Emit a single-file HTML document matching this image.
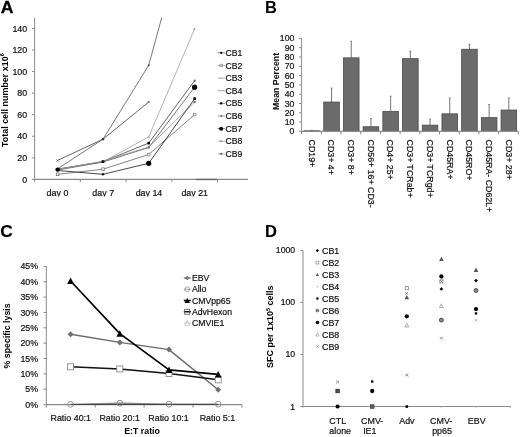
<!DOCTYPE html>
<html><head><meta charset="utf-8"><style>
html,body{margin:0;padding:0;background:#fff;width:520px;height:437px;overflow:hidden;}
svg{display:block;font-family:"Liberation Sans",sans-serif;filter:blur(0.35px);}
</style></head><body>
<svg width="520" height="437" viewBox="0 0 520 437">
<rect width="520" height="437" fill="#fff"/>
<text transform="translate(0.7,12.8) scale(1.07,1)" font-size="16.5" font-weight="bold" fill="#000" stroke="#000" stroke-width="0.3">A</text>
<line x1="34.60" y1="17.80" x2="34.60" y2="179.40" stroke="#8a8a8a" stroke-width="1.0" />
<line x1="32.00" y1="179.40" x2="34.60" y2="179.40" stroke="#8a8a8a" stroke-width="1.0" />
<text x="27.20" y="182.50" font-size="8.9" text-anchor="end" font-weight="normal" fill="#111"  stroke="#111" stroke-width="0.2">0</text>
<line x1="32.00" y1="157.83" x2="34.60" y2="157.83" stroke="#8a8a8a" stroke-width="1.0" />
<text x="27.20" y="160.93" font-size="8.9" text-anchor="end" font-weight="normal" fill="#111"  stroke="#111" stroke-width="0.2">20</text>
<line x1="32.00" y1="136.26" x2="34.60" y2="136.26" stroke="#8a8a8a" stroke-width="1.0" />
<text x="27.20" y="139.36" font-size="8.9" text-anchor="end" font-weight="normal" fill="#111"  stroke="#111" stroke-width="0.2">40</text>
<line x1="32.00" y1="114.69" x2="34.60" y2="114.69" stroke="#8a8a8a" stroke-width="1.0" />
<text x="27.20" y="117.79" font-size="8.9" text-anchor="end" font-weight="normal" fill="#111"  stroke="#111" stroke-width="0.2">60</text>
<line x1="32.00" y1="93.12" x2="34.60" y2="93.12" stroke="#8a8a8a" stroke-width="1.0" />
<text x="27.20" y="96.22" font-size="8.9" text-anchor="end" font-weight="normal" fill="#111"  stroke="#111" stroke-width="0.2">80</text>
<line x1="32.00" y1="71.55" x2="34.60" y2="71.55" stroke="#8a8a8a" stroke-width="1.0" />
<text x="27.20" y="74.65" font-size="8.9" text-anchor="end" font-weight="normal" fill="#111"  stroke="#111" stroke-width="0.2">100</text>
<line x1="32.00" y1="49.98" x2="34.60" y2="49.98" stroke="#8a8a8a" stroke-width="1.0" />
<text x="27.20" y="53.08" font-size="8.9" text-anchor="end" font-weight="normal" fill="#111"  stroke="#111" stroke-width="0.2">120</text>
<line x1="32.00" y1="28.41" x2="34.60" y2="28.41" stroke="#8a8a8a" stroke-width="1.0" />
<text x="27.20" y="31.51" font-size="8.9" text-anchor="end" font-weight="normal" fill="#111"  stroke="#111" stroke-width="0.2">140</text>
<line x1="34.60" y1="179.40" x2="248.00" y2="179.40" stroke="#8a8a8a" stroke-width="1.2" />
<line x1="196.00" y1="179.50" x2="217.50" y2="179.50" stroke="#666" stroke-width="1.4" />
<line x1="34.60" y1="179.40" x2="34.60" y2="182.20" stroke="#8a8a8a" stroke-width="1.0" />
<line x1="80.35" y1="179.40" x2="80.35" y2="182.20" stroke="#8a8a8a" stroke-width="1.0" />
<line x1="126.10" y1="179.40" x2="126.10" y2="182.20" stroke="#8a8a8a" stroke-width="1.0" />
<line x1="171.85" y1="179.40" x2="171.85" y2="182.20" stroke="#8a8a8a" stroke-width="1.0" />
<line x1="217.60" y1="179.40" x2="217.60" y2="182.20" stroke="#8a8a8a" stroke-width="1.0" />
<clipPath id="cax"><rect x="30" y="180" width="200" height="16.4"/></clipPath><g clip-path="url(#cax)">
<text x="57.48" y="195.70" font-size="8.9" text-anchor="middle" font-weight="normal" fill="#111"  stroke="#111" stroke-width="0.2">day 0</text>
<text x="103.22" y="195.70" font-size="8.9" text-anchor="middle" font-weight="normal" fill="#111"  stroke="#111" stroke-width="0.2">day 7</text>
<text x="148.97" y="195.70" font-size="8.9" text-anchor="middle" font-weight="normal" fill="#111"  stroke="#111" stroke-width="0.2">day 14</text>
<text x="194.72" y="195.70" font-size="8.9" text-anchor="middle" font-weight="normal" fill="#111"  stroke="#111" stroke-width="0.2">day 21</text>
</g>
<text transform="translate(7.70,100.10) rotate(-90)" font-size="8.95" text-anchor="middle" font-weight="bold" fill="#000">Total cell number x10<tspan font-size="5.6" dy="-3.5">6</tspan></text>
<defs><clipPath id="ca"><rect x="34" y="17.8" width="220" height="170"/></clipPath></defs>
<g clip-path="url(#ca)">
<polyline points="57.60,168.80 103.00,139.20 148.70,65.30 194.60,-103.00" fill="none" stroke="#666" stroke-width="0.9" stroke-linejoin="round" />
<polyline points="57.60,160.40 103.00,139.20 148.70,102.00" fill="none" stroke="#555" stroke-width="0.9" stroke-linejoin="round" />
<polyline points="57.60,169.00 103.00,161.80 148.70,137.00 194.60,28.80" fill="none" stroke="#aaa" stroke-width="0.9" stroke-linejoin="round" />
<polyline points="57.60,169.20 103.00,161.60 148.70,143.10 194.60,80.70" fill="none" stroke="#555" stroke-width="0.9" stroke-linejoin="round" />
<polyline points="57.60,170.00 103.00,162.00 148.70,147.50 194.60,87.20" fill="none" stroke="#666" stroke-width="0.9" stroke-linejoin="round" />
<polyline points="57.60,169.50 103.00,161.20 148.70,147.00 194.60,102.00" fill="none" stroke="#999" stroke-width="0.9" stroke-linejoin="round" />
<polyline points="57.60,174.30 103.00,169.20 148.70,154.50 194.60,114.60" fill="none" stroke="#777" stroke-width="0.9" stroke-linejoin="round" />
<polyline points="57.60,170.50 103.00,174.30 148.70,163.30 194.60,98.70" fill="none" stroke="#333" stroke-width="0.9" stroke-linejoin="round" />
</g>
<path d="M56.50,159.30L58.70,161.50M58.70,159.30L56.50,161.50" stroke="#666" stroke-width="0.8" fill="none"/>
<circle cx="57.60" cy="169.60" r="2.2" fill="#000" stroke="none" stroke-width="0.8"/>
<rect x="56.30" y="173.00" width="2.6" height="2.6" fill="#fff" stroke="#777" stroke-width="0.8"/>
<circle cx="103.00" cy="139.20" r="1.2" fill="#333" stroke="none" stroke-width="0.8"/>
<rect x="101.60" y="160.20" width="2.8" height="2.8" fill="#111" stroke="none" stroke-width="0.8"/>
<rect x="101.70" y="167.90" width="2.6" height="2.6" fill="#fff" stroke="#777" stroke-width="0.8"/>
<polygon points="103.00,172.80 104.50,174.30 103.00,175.80 101.50,174.30" fill="#000" stroke="none" stroke-width="0.8"/>
<circle cx="148.70" cy="65.30" r="1.1" fill="#555" stroke="none" stroke-width="0.8"/>
<path d="M147.60,100.90L149.80,103.10M149.80,100.90L147.60,103.10" stroke="#666" stroke-width="0.8" fill="none"/>
<polygon points="148.70,135.80 149.90,138.08 147.50,138.08" fill="#aaa" stroke="none" stroke-width="0.8"/>
<rect x="147.40" y="141.80" width="2.6" height="2.6" fill="#000" stroke="none" stroke-width="0.8"/>
<circle cx="148.70" cy="147.50" r="1.3" fill="#777" stroke="none" stroke-width="0.8"/>
<rect x="147.40" y="153.20" width="2.6" height="2.6" fill="#fff" stroke="#888" stroke-width="0.8"/>
<circle cx="148.70" cy="163.30" r="2.6" fill="#000" stroke="none" stroke-width="0.8"/>
<polygon points="194.60,27.60 195.80,29.88 193.40,29.88" fill="#999" stroke="none" stroke-width="0.8"/>
<circle cx="194.60" cy="80.70" r="1.2" fill="#777" stroke="none" stroke-width="0.8"/>
<circle cx="194.60" cy="87.20" r="2.6" fill="#000" stroke="none" stroke-width="0.8"/>
<rect x="193.30" y="97.40" width="2.6" height="2.6" fill="#000" stroke="none" stroke-width="0.8"/>
<circle cx="194.60" cy="102.00" r="1.3" fill="#777" stroke="none" stroke-width="0.8"/>
<rect x="193.30" y="113.30" width="2.6" height="2.6" fill="#fff" stroke="#888" stroke-width="0.8"/>
<line x1="217.50" y1="52.80" x2="225.00" y2="52.80" stroke="#777" stroke-width="0.9" />
<text x="225.50" y="55.90" font-size="8.7" text-anchor="start" font-weight="normal" fill="#111"  stroke="#111" stroke-width="0.2">CB1</text>
<polygon points="221.20,51.40 222.60,52.80 221.20,54.20 219.80,52.80" fill="#000" stroke="none" stroke-width="0.8"/>
<line x1="217.50" y1="65.44" x2="225.00" y2="65.44" stroke="#aaa" stroke-width="0.9" />
<text x="225.50" y="68.54" font-size="8.7" text-anchor="start" font-weight="normal" fill="#111"  stroke="#111" stroke-width="0.2">CB2</text>
<rect x="220.00" y="64.24" width="2.4" height="2.4" fill="#ccc" stroke="#999" stroke-width="0.8"/>
<line x1="217.50" y1="78.08" x2="225.00" y2="78.08" stroke="#aaa" stroke-width="0.9" />
<text x="225.50" y="81.18" font-size="8.7" text-anchor="start" font-weight="normal" fill="#111"  stroke="#111" stroke-width="0.2">CB3</text>
<polygon points="221.20,76.98 222.30,79.07 220.10,79.07" fill="#bbb" stroke="none" stroke-width="0.8"/>
<line x1="217.50" y1="90.72" x2="225.00" y2="90.72" stroke="#999" stroke-width="0.9" />
<text x="225.50" y="93.82" font-size="8.7" text-anchor="start" font-weight="normal" fill="#111"  stroke="#111" stroke-width="0.2">CB4</text>
<line x1="217.50" y1="103.36" x2="225.00" y2="103.36" stroke="#888" stroke-width="0.9" />
<text x="225.50" y="106.46" font-size="8.7" text-anchor="start" font-weight="normal" fill="#111"  stroke="#111" stroke-width="0.2">CB5</text>
<rect x="220.10" y="102.26" width="2.2" height="2.2" fill="#000" stroke="none" stroke-width="0.8"/>
<line x1="217.50" y1="116.00" x2="225.00" y2="116.00" stroke="#999" stroke-width="0.9" />
<text x="225.50" y="119.10" font-size="8.7" text-anchor="start" font-weight="normal" fill="#111"  stroke="#111" stroke-width="0.2">CB6</text>
<circle cx="221.20" cy="116.00" r="1.1" fill="#777" stroke="none" stroke-width="0.8"/>
<line x1="217.50" y1="128.64" x2="225.00" y2="128.64" stroke="#666" stroke-width="0.9" />
<text x="225.50" y="131.74" font-size="8.7" text-anchor="start" font-weight="normal" fill="#111"  stroke="#111" stroke-width="0.2">CB7</text>
<circle cx="221.20" cy="128.64" r="2.0" fill="#000" stroke="none" stroke-width="0.8"/>
<line x1="217.50" y1="141.28" x2="225.00" y2="141.28" stroke="#aaa" stroke-width="0.9" />
<text x="225.50" y="144.38" font-size="8.7" text-anchor="start" font-weight="normal" fill="#111"  stroke="#111" stroke-width="0.2">CB8</text>
<circle cx="221.20" cy="141.28" r="1.0" fill="#888" stroke="none" stroke-width="0.8"/>
<line x1="217.50" y1="153.92" x2="225.00" y2="153.92" stroke="#aaa" stroke-width="0.9" />
<text x="225.50" y="157.02" font-size="8.7" text-anchor="start" font-weight="normal" fill="#111"  stroke="#111" stroke-width="0.2">CB9</text>
<circle cx="221.20" cy="153.92" r="1.1" fill="#666" stroke="none" stroke-width="0.8"/>
<text x="264.90" y="12.60" font-size="16.5" text-anchor="start" font-weight="bold" fill="#000" >B</text>
<line x1="301.60" y1="38.30" x2="301.60" y2="131.40" stroke="#8a8a8a" stroke-width="1.0" />
<line x1="299.00" y1="131.40" x2="301.60" y2="131.40" stroke="#8a8a8a" stroke-width="1.0" />
<text x="294.30" y="134.40" font-size="8.7" text-anchor="end" font-weight="normal" fill="#111"  stroke="#111" stroke-width="0.2">0</text>
<line x1="299.00" y1="122.10" x2="301.60" y2="122.10" stroke="#8a8a8a" stroke-width="1.0" />
<text x="294.30" y="125.10" font-size="8.7" text-anchor="end" font-weight="normal" fill="#111"  stroke="#111" stroke-width="0.2">10</text>
<line x1="299.00" y1="112.80" x2="301.60" y2="112.80" stroke="#8a8a8a" stroke-width="1.0" />
<text x="294.30" y="115.80" font-size="8.7" text-anchor="end" font-weight="normal" fill="#111"  stroke="#111" stroke-width="0.2">20</text>
<line x1="299.00" y1="103.50" x2="301.60" y2="103.50" stroke="#8a8a8a" stroke-width="1.0" />
<text x="294.30" y="106.50" font-size="8.7" text-anchor="end" font-weight="normal" fill="#111"  stroke="#111" stroke-width="0.2">30</text>
<line x1="299.00" y1="94.20" x2="301.60" y2="94.20" stroke="#8a8a8a" stroke-width="1.0" />
<text x="294.30" y="97.20" font-size="8.7" text-anchor="end" font-weight="normal" fill="#111"  stroke="#111" stroke-width="0.2">40</text>
<line x1="299.00" y1="84.90" x2="301.60" y2="84.90" stroke="#8a8a8a" stroke-width="1.0" />
<text x="294.30" y="87.90" font-size="8.7" text-anchor="end" font-weight="normal" fill="#111"  stroke="#111" stroke-width="0.2">50</text>
<line x1="299.00" y1="75.60" x2="301.60" y2="75.60" stroke="#8a8a8a" stroke-width="1.0" />
<text x="294.30" y="78.60" font-size="8.7" text-anchor="end" font-weight="normal" fill="#111"  stroke="#111" stroke-width="0.2">60</text>
<line x1="299.00" y1="66.30" x2="301.60" y2="66.30" stroke="#8a8a8a" stroke-width="1.0" />
<text x="294.30" y="69.30" font-size="8.7" text-anchor="end" font-weight="normal" fill="#111"  stroke="#111" stroke-width="0.2">70</text>
<line x1="299.00" y1="57.00" x2="301.60" y2="57.00" stroke="#8a8a8a" stroke-width="1.0" />
<text x="294.30" y="60.00" font-size="8.7" text-anchor="end" font-weight="normal" fill="#111"  stroke="#111" stroke-width="0.2">80</text>
<line x1="299.00" y1="47.70" x2="301.60" y2="47.70" stroke="#8a8a8a" stroke-width="1.0" />
<text x="294.30" y="50.70" font-size="8.7" text-anchor="end" font-weight="normal" fill="#111"  stroke="#111" stroke-width="0.2">90</text>
<line x1="299.00" y1="38.40" x2="301.60" y2="38.40" stroke="#8a8a8a" stroke-width="1.0" />
<text x="294.30" y="41.40" font-size="8.7" text-anchor="end" font-weight="normal" fill="#111"  stroke="#111" stroke-width="0.2">100</text>
<text transform="translate(278.90,81.50) rotate(-90)" font-size="8.8" text-anchor="middle" font-weight="bold" fill="#000">Mean Percent</text>
<line x1="311.85" y1="130.30" x2="311.85" y2="130.80" stroke="#666" stroke-width="0.9" />
<line x1="310.95" y1="130.30" x2="312.75" y2="130.30" stroke="#666" stroke-width="0.8" />
<rect x="304.05" y="130.80" width="15.6" height="0.60" fill="#6b6b6b" stroke="#4a4a4a" stroke-width="0.8"/>
<text transform="translate(308.65,139.60) rotate(90)" font-size="8.8" text-anchor="start" font-weight="normal" fill="#111" stroke="#111" stroke-width="0.2">CD19+</text>
<line x1="331.55" y1="88.10" x2="331.55" y2="102.05" stroke="#666" stroke-width="0.9" />
<line x1="330.65" y1="88.10" x2="332.45" y2="88.10" stroke="#666" stroke-width="0.8" />
<rect x="323.75" y="102.05" width="15.6" height="29.35" fill="#6b6b6b" stroke="#4a4a4a" stroke-width="0.8"/>
<text transform="translate(328.35,139.60) rotate(90)" font-size="8.8" text-anchor="start" font-weight="normal" fill="#111" stroke="#111" stroke-width="0.2">CD3+ 4+</text>
<line x1="351.25" y1="41.20" x2="351.25" y2="57.85" stroke="#666" stroke-width="0.9" />
<line x1="350.35" y1="41.20" x2="352.15" y2="41.20" stroke="#666" stroke-width="0.8" />
<rect x="343.45" y="57.85" width="15.6" height="73.55" fill="#6b6b6b" stroke="#4a4a4a" stroke-width="0.8"/>
<text transform="translate(348.05,139.60) rotate(90)" font-size="8.8" text-anchor="start" font-weight="normal" fill="#111" stroke="#111" stroke-width="0.2">CD3+ 8+</text>
<line x1="370.95" y1="118.60" x2="370.95" y2="126.75" stroke="#666" stroke-width="0.9" />
<line x1="370.05" y1="118.60" x2="371.85" y2="118.60" stroke="#666" stroke-width="0.8" />
<rect x="363.15" y="126.75" width="15.6" height="4.65" fill="#6b6b6b" stroke="#4a4a4a" stroke-width="0.8"/>
<text transform="translate(367.75,139.60) rotate(90)" font-size="8.8" text-anchor="start" font-weight="normal" fill="#111" stroke="#111" stroke-width="0.2">CD56+ 16+ CD3-</text>
<line x1="390.65" y1="96.20" x2="390.65" y2="111.35" stroke="#666" stroke-width="0.9" />
<line x1="389.75" y1="96.20" x2="391.55" y2="96.20" stroke="#666" stroke-width="0.8" />
<rect x="382.85" y="111.35" width="15.6" height="20.05" fill="#6b6b6b" stroke="#4a4a4a" stroke-width="0.8"/>
<text transform="translate(387.45,139.60) rotate(90)" font-size="8.8" text-anchor="start" font-weight="normal" fill="#111" stroke="#111" stroke-width="0.2">CD4+ 25+</text>
<line x1="410.35" y1="51.10" x2="410.35" y2="58.65" stroke="#666" stroke-width="0.9" />
<line x1="409.45" y1="51.10" x2="411.25" y2="51.10" stroke="#666" stroke-width="0.8" />
<rect x="402.55" y="58.65" width="15.6" height="72.75" fill="#6b6b6b" stroke="#4a4a4a" stroke-width="0.8"/>
<text transform="translate(407.15,139.60) rotate(90)" font-size="8.8" text-anchor="start" font-weight="normal" fill="#111" stroke="#111" stroke-width="0.2">CD3+ TCRab+</text>
<line x1="430.05" y1="119.00" x2="430.05" y2="125.15" stroke="#666" stroke-width="0.9" />
<line x1="429.15" y1="119.00" x2="430.95" y2="119.00" stroke="#666" stroke-width="0.8" />
<rect x="422.25" y="125.15" width="15.6" height="6.25" fill="#6b6b6b" stroke="#4a4a4a" stroke-width="0.8"/>
<text transform="translate(426.85,139.60) rotate(90)" font-size="8.8" text-anchor="start" font-weight="normal" fill="#111" stroke="#111" stroke-width="0.2">CD3+ TCRgd+</text>
<line x1="449.75" y1="97.90" x2="449.75" y2="113.85" stroke="#666" stroke-width="0.9" />
<line x1="448.85" y1="97.90" x2="450.65" y2="97.90" stroke="#666" stroke-width="0.8" />
<rect x="441.95" y="113.85" width="15.6" height="17.55" fill="#6b6b6b" stroke="#4a4a4a" stroke-width="0.8"/>
<text transform="translate(446.55,139.60) rotate(90)" font-size="8.8" text-anchor="start" font-weight="normal" fill="#111" stroke="#111" stroke-width="0.2">CD45RA+</text>
<line x1="469.45" y1="44.30" x2="469.45" y2="49.25" stroke="#666" stroke-width="0.9" />
<line x1="468.55" y1="44.30" x2="470.35" y2="44.30" stroke="#666" stroke-width="0.8" />
<rect x="461.65" y="49.25" width="15.6" height="82.15" fill="#6b6b6b" stroke="#4a4a4a" stroke-width="0.8"/>
<text transform="translate(466.25,139.60) rotate(90)" font-size="8.8" text-anchor="start" font-weight="normal" fill="#111" stroke="#111" stroke-width="0.2">CD45RO+</text>
<line x1="489.15" y1="104.50" x2="489.15" y2="117.65" stroke="#666" stroke-width="0.9" />
<line x1="488.25" y1="104.50" x2="490.05" y2="104.50" stroke="#666" stroke-width="0.8" />
<rect x="481.35" y="117.65" width="15.6" height="13.75" fill="#6b6b6b" stroke="#4a4a4a" stroke-width="0.8"/>
<text transform="translate(485.95,139.60) rotate(90)" font-size="8.8" text-anchor="start" font-weight="normal" fill="#111" stroke="#111" stroke-width="0.2">CD45RA- CD62L+</text>
<line x1="508.85" y1="97.90" x2="508.85" y2="110.05" stroke="#666" stroke-width="0.9" />
<line x1="507.95" y1="97.90" x2="509.75" y2="97.90" stroke="#666" stroke-width="0.8" />
<rect x="501.05" y="110.05" width="15.6" height="21.35" fill="#6b6b6b" stroke="#4a4a4a" stroke-width="0.8"/>
<text transform="translate(505.65,139.60) rotate(90)" font-size="8.8" text-anchor="start" font-weight="normal" fill="#111" stroke="#111" stroke-width="0.2">CD3+ 28+</text>
<line x1="301.60" y1="131.40" x2="518.30" y2="131.40" stroke="#8a8a8a" stroke-width="1.2" />
<line x1="301.60" y1="131.40" x2="301.60" y2="134.40" stroke="#8a8a8a" stroke-width="1.0" />
<line x1="321.30" y1="131.40" x2="321.30" y2="134.40" stroke="#8a8a8a" stroke-width="1.0" />
<line x1="341.00" y1="131.40" x2="341.00" y2="134.40" stroke="#8a8a8a" stroke-width="1.0" />
<line x1="360.70" y1="131.40" x2="360.70" y2="134.40" stroke="#8a8a8a" stroke-width="1.0" />
<line x1="380.40" y1="131.40" x2="380.40" y2="134.40" stroke="#8a8a8a" stroke-width="1.0" />
<line x1="400.10" y1="131.40" x2="400.10" y2="134.40" stroke="#8a8a8a" stroke-width="1.0" />
<line x1="419.80" y1="131.40" x2="419.80" y2="134.40" stroke="#8a8a8a" stroke-width="1.0" />
<line x1="439.50" y1="131.40" x2="439.50" y2="134.40" stroke="#8a8a8a" stroke-width="1.0" />
<line x1="459.20" y1="131.40" x2="459.20" y2="134.40" stroke="#8a8a8a" stroke-width="1.0" />
<line x1="478.90" y1="131.40" x2="478.90" y2="134.40" stroke="#8a8a8a" stroke-width="1.0" />
<line x1="498.60" y1="131.40" x2="498.60" y2="134.40" stroke="#8a8a8a" stroke-width="1.0" />
<line x1="518.30" y1="131.40" x2="518.30" y2="134.40" stroke="#8a8a8a" stroke-width="1.0" />
<text transform="translate(0.3,237.3) scale(1.0,1)" font-size="17.3" font-weight="bold" fill="#000" stroke="#000" stroke-width="0.2">C</text>
<line x1="46.30" y1="266.00" x2="46.30" y2="404.60" stroke="#8a8a8a" stroke-width="1.0" />
<line x1="43.50" y1="404.60" x2="46.30" y2="404.60" stroke="#8a8a8a" stroke-width="1.0" />
<text x="38.20" y="407.70" font-size="8.9" text-anchor="end" font-weight="normal" fill="#111"  stroke="#111" stroke-width="0.2">0%</text>
<line x1="43.50" y1="389.24" x2="46.30" y2="389.24" stroke="#8a8a8a" stroke-width="1.0" />
<text x="38.20" y="392.34" font-size="8.9" text-anchor="end" font-weight="normal" fill="#111"  stroke="#111" stroke-width="0.2">5%</text>
<line x1="43.50" y1="373.88" x2="46.30" y2="373.88" stroke="#8a8a8a" stroke-width="1.0" />
<text x="38.20" y="376.98" font-size="8.9" text-anchor="end" font-weight="normal" fill="#111"  stroke="#111" stroke-width="0.2">10%</text>
<line x1="43.50" y1="358.52" x2="46.30" y2="358.52" stroke="#8a8a8a" stroke-width="1.0" />
<text x="38.20" y="361.62" font-size="8.9" text-anchor="end" font-weight="normal" fill="#111"  stroke="#111" stroke-width="0.2">15%</text>
<line x1="43.50" y1="343.16" x2="46.30" y2="343.16" stroke="#8a8a8a" stroke-width="1.0" />
<text x="38.20" y="346.26" font-size="8.9" text-anchor="end" font-weight="normal" fill="#111"  stroke="#111" stroke-width="0.2">20%</text>
<line x1="43.50" y1="327.80" x2="46.30" y2="327.80" stroke="#8a8a8a" stroke-width="1.0" />
<text x="38.20" y="330.90" font-size="8.9" text-anchor="end" font-weight="normal" fill="#111"  stroke="#111" stroke-width="0.2">25%</text>
<line x1="43.50" y1="312.44" x2="46.30" y2="312.44" stroke="#8a8a8a" stroke-width="1.0" />
<text x="38.20" y="315.54" font-size="8.9" text-anchor="end" font-weight="normal" fill="#111"  stroke="#111" stroke-width="0.2">30%</text>
<line x1="43.50" y1="297.08" x2="46.30" y2="297.08" stroke="#8a8a8a" stroke-width="1.0" />
<text x="38.20" y="300.18" font-size="8.9" text-anchor="end" font-weight="normal" fill="#111"  stroke="#111" stroke-width="0.2">35%</text>
<line x1="43.50" y1="281.72" x2="46.30" y2="281.72" stroke="#8a8a8a" stroke-width="1.0" />
<text x="38.20" y="284.82" font-size="8.9" text-anchor="end" font-weight="normal" fill="#111"  stroke="#111" stroke-width="0.2">40%</text>
<line x1="43.50" y1="266.36" x2="46.30" y2="266.36" stroke="#8a8a8a" stroke-width="1.0" />
<text x="38.20" y="269.46" font-size="8.9" text-anchor="end" font-weight="normal" fill="#111"  stroke="#111" stroke-width="0.2">45%</text>
<line x1="46.30" y1="404.60" x2="241.90" y2="404.60" stroke="#8a8a8a" stroke-width="1.2" />
<line x1="46.30" y1="404.60" x2="46.30" y2="407.60" stroke="#8a8a8a" stroke-width="1.0" />
<line x1="95.20" y1="404.60" x2="95.20" y2="407.60" stroke="#8a8a8a" stroke-width="1.0" />
<line x1="144.10" y1="404.60" x2="144.10" y2="407.60" stroke="#8a8a8a" stroke-width="1.0" />
<line x1="193.00" y1="404.60" x2="193.00" y2="407.60" stroke="#8a8a8a" stroke-width="1.0" />
<line x1="241.90" y1="404.60" x2="241.90" y2="407.60" stroke="#8a8a8a" stroke-width="1.0" />
<text x="70.75" y="420.60" font-size="8.9" text-anchor="middle" font-weight="normal" fill="#111"  stroke="#111" stroke-width="0.2">Ratio 40:1</text>
<text x="119.65" y="420.60" font-size="8.9" text-anchor="middle" font-weight="normal" fill="#111"  stroke="#111" stroke-width="0.2">Ratio 20:1</text>
<text x="168.55" y="420.60" font-size="8.9" text-anchor="middle" font-weight="normal" fill="#111"  stroke="#111" stroke-width="0.2">Ratio 10:1</text>
<text x="217.45" y="420.60" font-size="8.9" text-anchor="middle" font-weight="normal" fill="#111"  stroke="#111" stroke-width="0.2">Ratio 5:1</text>
<text x="142.10" y="434.00" font-size="8.8" text-anchor="middle" font-weight="bold" fill="#000" >E:T ratio</text>
<text transform="translate(10.20,335.90) rotate(-90)" font-size="8.8" text-anchor="middle" font-weight="bold" fill="#000">% specific lysis</text>
<polyline points="70.60,404.30 119.80,403.20 169.00,404.20 218.20,404.10" fill="none" stroke="#888" stroke-width="1.3" stroke-linejoin="round" />
<polyline points="70.60,404.50 119.80,404.50 169.00,404.50 218.20,404.50" fill="none" stroke="#444" stroke-width="1.0" stroke-linejoin="round" />
<circle cx="70.60" cy="404.30" r="2.9" fill="none" stroke="#888" stroke-width="0.9"/>
<circle cx="119.80" cy="403.20" r="2.9" fill="none" stroke="#888" stroke-width="0.9"/>
<circle cx="169.00" cy="404.20" r="2.9" fill="none" stroke="#888" stroke-width="0.9"/>
<circle cx="218.20" cy="404.10" r="2.9" fill="none" stroke="#888" stroke-width="0.9"/>
<polyline points="70.60,334.30 119.80,342.40 169.00,349.60 218.20,389.80" fill="none" stroke="#6a6a6a" stroke-width="1.4" stroke-linejoin="round" />
<polygon points="70.60,331.30 73.60,334.30 70.60,337.30 67.60,334.30" fill="#707070" stroke="none" stroke-width="0.8"/>
<polygon points="119.80,339.40 122.80,342.40 119.80,345.40 116.80,342.40" fill="#707070" stroke="none" stroke-width="0.8"/>
<polygon points="169.00,346.60 172.00,349.60 169.00,352.60 166.00,349.60" fill="#707070" stroke="none" stroke-width="0.8"/>
<polygon points="218.20,386.80 221.20,389.80 218.20,392.80 215.20,389.80" fill="#707070" stroke="none" stroke-width="0.8"/>
<polyline points="70.60,366.80 119.80,368.90 169.00,373.50 218.20,379.80" fill="none" stroke="#111" stroke-width="1.5" stroke-linejoin="round" />
<rect x="67.60" y="363.80" width="6.0" height="6.0" fill="#fff" stroke="#888" stroke-width="0.9"/>
<rect x="116.80" y="365.90" width="6.0" height="6.0" fill="#fff" stroke="#888" stroke-width="0.9"/>
<rect x="166.00" y="370.50" width="6.0" height="6.0" fill="#fff" stroke="#888" stroke-width="0.9"/>
<rect x="215.20" y="376.80" width="6.0" height="6.0" fill="#fff" stroke="#888" stroke-width="0.9"/>
<polyline points="70.60,281.00 119.80,333.60 169.00,369.90 218.20,374.40" fill="none" stroke="#000" stroke-width="1.7" stroke-linejoin="round" />
<polygon points="70.60,277.60 74.00,284.06 67.20,284.06" fill="#000" stroke="none" stroke-width="0.8"/>
<polygon points="119.80,330.20 123.20,336.66 116.40,336.66" fill="#000" stroke="none" stroke-width="0.8"/>
<polygon points="169.00,366.50 172.40,372.96 165.60,372.96" fill="#000" stroke="none" stroke-width="0.8"/>
<polygon points="218.20,371.00 221.60,377.46 214.80,377.46" fill="#000" stroke="none" stroke-width="0.8"/>
<line x1="183.80" y1="278.00" x2="190.80" y2="278.00" stroke="#777" stroke-width="1.3" />
<polygon points="187.20,275.70 189.50,278.00 187.20,280.30 184.90,278.00" fill="#777" stroke="none" stroke-width="0.8"/>
<text x="191.90" y="281.10" font-size="8.7" text-anchor="start" font-weight="normal" fill="#111"  stroke="#111" stroke-width="0.2">EBV</text>
<line x1="183.80" y1="289.25" x2="190.80" y2="289.25" stroke="#999" stroke-width="1.0" />
<circle cx="187.20" cy="289.25" r="2.4" fill="none" stroke="#999" stroke-width="0.8"/>
<text x="191.90" y="292.35" font-size="8.7" text-anchor="start" font-weight="normal" fill="#111"  stroke="#111" stroke-width="0.2">Allo</text>
<line x1="183.80" y1="300.50" x2="190.80" y2="300.50" stroke="#000" stroke-width="1.5" />
<polygon points="187.20,297.80 189.90,302.93 184.50,302.93" fill="#000" stroke="none" stroke-width="0.8"/>
<text x="191.90" y="303.60" font-size="8.7" text-anchor="start" font-weight="normal" fill="#111"  stroke="#111" stroke-width="0.2">CMVpp65</text>
<line x1="183.80" y1="311.75" x2="190.80" y2="311.75" stroke="#111" stroke-width="1.5" />
<rect x="184.70" y="309.25" width="5.0" height="5.0" fill="none" stroke="#555" stroke-width="0.8"/>
<text x="191.90" y="314.85" font-size="8.7" text-anchor="start" font-weight="normal" fill="#111"  stroke="#111" stroke-width="0.2">AdvHexon</text>
<line x1="183.80" y1="323.00" x2="190.80" y2="323.00" stroke="#ccc" stroke-width="1.0" />
<polygon points="187.20,320.50 189.70,325.25 184.70,325.25" fill="none" stroke="#bbb" stroke-width="0.8"/>
<text x="191.90" y="326.10" font-size="8.7" text-anchor="start" font-weight="normal" fill="#111"  stroke="#111" stroke-width="0.2">CMVIE1</text>
<text transform="translate(265.0,236.7) scale(0.95,1)" font-size="17.4" font-weight="bold" fill="#000" stroke="#000" stroke-width="0.15">D</text>
<line x1="303.00" y1="250.40" x2="303.00" y2="406.50" stroke="#8a8a8a" stroke-width="1.0" />
<line x1="300.40" y1="406.50" x2="303.00" y2="406.50" stroke="#8a8a8a" stroke-width="1.0" />
<text x="295.20" y="409.50" font-size="8.7" text-anchor="end" font-weight="normal" fill="#111"  stroke="#111" stroke-width="0.2">1</text>
<line x1="300.40" y1="354.45" x2="303.00" y2="354.45" stroke="#8a8a8a" stroke-width="1.0" />
<text x="295.20" y="357.45" font-size="8.7" text-anchor="end" font-weight="normal" fill="#111"  stroke="#111" stroke-width="0.2">10</text>
<line x1="300.40" y1="302.40" x2="303.00" y2="302.40" stroke="#8a8a8a" stroke-width="1.0" />
<text x="295.20" y="305.40" font-size="8.7" text-anchor="end" font-weight="normal" fill="#111"  stroke="#111" stroke-width="0.2">100</text>
<line x1="300.40" y1="250.35" x2="303.00" y2="250.35" stroke="#8a8a8a" stroke-width="1.0" />
<text x="295.20" y="253.35" font-size="8.7" text-anchor="end" font-weight="normal" fill="#111"  stroke="#111" stroke-width="0.2">1000</text>
<line x1="303.00" y1="406.50" x2="510.80" y2="406.50" stroke="#8a8a8a" stroke-width="1.1" />
<line x1="303.00" y1="406.50" x2="303.00" y2="408.00" stroke="#bbb" stroke-width="1.0" />
<line x1="337.60" y1="406.50" x2="337.60" y2="408.00" stroke="#bbb" stroke-width="1.0" />
<line x1="372.20" y1="406.50" x2="372.20" y2="408.00" stroke="#bbb" stroke-width="1.0" />
<line x1="406.80" y1="406.50" x2="406.80" y2="408.00" stroke="#bbb" stroke-width="1.0" />
<line x1="441.40" y1="406.50" x2="441.40" y2="408.00" stroke="#bbb" stroke-width="1.0" />
<line x1="476.00" y1="406.50" x2="476.00" y2="408.00" stroke="#bbb" stroke-width="1.0" />
<line x1="510.60" y1="406.50" x2="510.60" y2="408.00" stroke="#bbb" stroke-width="1.0" />
<text x="329.30" y="423.70" font-size="8.9" text-anchor="start" font-weight="normal" fill="#111"  stroke="#111" stroke-width="0.2">CTL</text>
<text x="329.30" y="434.20" font-size="8.9" text-anchor="start" font-weight="normal" fill="#111"  stroke="#111" stroke-width="0.2">alone</text>
<text x="372.20" y="423.70" font-size="8.9" text-anchor="middle" font-weight="normal" fill="#111"  stroke="#111" stroke-width="0.2">CMV-</text>
<text x="369.80" y="434.20" font-size="8.9" text-anchor="middle" font-weight="normal" fill="#111"  stroke="#111" stroke-width="0.2">IE1</text>
<text x="406.90" y="423.70" font-size="8.9" text-anchor="middle" font-weight="normal" fill="#111"  stroke="#111" stroke-width="0.2">Adv</text>
<text x="441.20" y="423.70" font-size="8.9" text-anchor="middle" font-weight="normal" fill="#111"  stroke="#111" stroke-width="0.2">CMV-</text>
<text x="442.00" y="434.20" font-size="8.9" text-anchor="middle" font-weight="normal" fill="#111"  stroke="#111" stroke-width="0.2">pp65</text>
<text x="476.70" y="423.70" font-size="8.9" text-anchor="middle" font-weight="normal" fill="#111"  stroke="#111" stroke-width="0.2">EBV</text>
<text transform="translate(273.10,326.80) rotate(-90)" font-size="9.0" text-anchor="middle" font-weight="bold" fill="#000">SFC per 1x10<tspan font-size="5.5" dy="-3.5">5</tspan><tspan dy="3.5"> cells</tspan></text>
<polygon points="317.40,249.00 319.00,250.60 317.40,252.20 315.80,250.60" fill="#000" stroke="none" stroke-width="0.8"/>
<text x="322.00" y="253.70" font-size="8.9" text-anchor="start" font-weight="normal" fill="#111"  stroke="#111" stroke-width="0.2">CB1</text>
<rect x="316.00" y="261.18" width="2.8" height="2.8" fill="#fff" stroke="#999" stroke-width="0.8"/>
<text x="322.00" y="265.68" font-size="8.9" text-anchor="start" font-weight="normal" fill="#111"  stroke="#111" stroke-width="0.2">CB2</text>
<polygon points="317.40,272.96 319.00,276.00 315.80,276.00" fill="#555" stroke="none" stroke-width="0.8"/>
<text x="322.00" y="277.66" font-size="8.9" text-anchor="start" font-weight="normal" fill="#111"  stroke="#111" stroke-width="0.2">CB3</text>
<circle cx="317.40" cy="286.54" r="0.9" fill="#bbb" stroke="none" stroke-width="0.8"/>
<text x="322.00" y="289.64" font-size="8.9" text-anchor="start" font-weight="normal" fill="#111"  stroke="#111" stroke-width="0.2">CB4</text>
<rect x="316.30" y="297.42" width="2.2" height="2.2" fill="#000" stroke="none" stroke-width="0.8"/>
<text x="322.00" y="301.62" font-size="8.9" text-anchor="start" font-weight="normal" fill="#111"  stroke="#111" stroke-width="0.2">CB5</text>
<circle cx="317.40" cy="310.50" r="1.5" fill="#888" stroke="#555" stroke-width="0.6"/>
<text x="322.00" y="313.60" font-size="8.9" text-anchor="start" font-weight="normal" fill="#111"  stroke="#111" stroke-width="0.2">CB6</text>
<circle cx="317.40" cy="322.48" r="1.8" fill="#000" stroke="none" stroke-width="0.8"/>
<text x="322.00" y="325.58" font-size="8.9" text-anchor="start" font-weight="normal" fill="#111"  stroke="#111" stroke-width="0.2">CB7</text>
<polygon points="317.40,332.76 319.10,335.99 315.70,335.99" fill="#fff" stroke="#999" stroke-width="0.7"/>
<text x="322.00" y="337.56" font-size="8.9" text-anchor="start" font-weight="normal" fill="#111"  stroke="#111" stroke-width="0.2">CB8</text>
<path d="M316.30,345.34L318.50,347.54M318.50,345.34L316.30,347.54" stroke="#888" stroke-width="0.8" fill="none"/>
<text x="322.00" y="349.54" font-size="8.9" text-anchor="start" font-weight="normal" fill="#111"  stroke="#111" stroke-width="0.2">CB9</text>
<path d="M336.20,380.60L339.00,383.40M339.00,380.60L336.20,383.40" stroke="#777" stroke-width="0.8" fill="none"/>
<rect x="335.90" y="389.30" width="3.4" height="3.4" fill="#555" stroke="#222" stroke-width="0.8"/>
<circle cx="337.60" cy="406.50" r="2.1" fill="#000" stroke="none" stroke-width="0.8"/>
<rect x="371.05" y="380.35" width="2.3" height="2.3" fill="#000" stroke="none" stroke-width="0.8"/>
<circle cx="372.20" cy="391.00" r="2.15" fill="#000" stroke="none" stroke-width="0.8"/>
<rect x="370.40" y="404.70" width="3.6" height="3.6" fill="#666" stroke="#444" stroke-width="0.8"/>
<rect x="405.20" y="286.60" width="3.2" height="3.2" fill="#fff" stroke="#888" stroke-width="0.8"/>
<path d="M405.40,291.90L408.20,294.70M408.20,291.90L405.40,294.70" stroke="#777" stroke-width="0.8" fill="none"/>
<polygon points="406.80,295.00 409.10,299.37 404.50,299.37" fill="#555" stroke="none" stroke-width="0.8"/>
<circle cx="406.80" cy="316.30" r="2.15" fill="#000" stroke="none" stroke-width="0.8"/>
<polygon points="406.80,323.40 408.70,327.01 404.90,327.01" fill="#fff" stroke="#888" stroke-width="0.7"/>
<path d="M405.40,373.60L408.20,376.40M408.20,373.60L405.40,376.40" stroke="#777" stroke-width="0.8" fill="none"/>
<circle cx="406.80" cy="406.50" r="1.5" fill="#000" stroke="none" stroke-width="0.8"/>
<polygon points="441.40,256.70 443.70,261.07 439.10,261.07" fill="#555" stroke="none" stroke-width="0.8"/>
<circle cx="441.40" cy="276.50" r="2.15" fill="#000" stroke="none" stroke-width="0.8"/>
<rect x="439.80" y="279.80" width="3.2" height="3.2" fill="#fff" stroke="#888" stroke-width="0.8"/>
<path d="M440.00,280.00L442.80,282.80M442.80,280.00L440.00,282.80" stroke="#777" stroke-width="0.8" fill="none"/>
<polygon points="441.40,287.20 443.20,289.00 441.40,290.80 439.60,289.00" fill="#000" stroke="none" stroke-width="0.8"/>
<polygon points="441.40,303.80 443.30,307.41 439.50,307.41" fill="#fff" stroke="#888" stroke-width="0.7"/>
<circle cx="441.40" cy="320.10" r="2.0" fill="#888" stroke="#333" stroke-width="0.8"/>
<path d="M440.00,336.80L442.80,339.60M442.80,336.80L440.00,339.60" stroke="#777" stroke-width="0.8" fill="none"/>
<polygon points="476.00,267.60 478.30,271.97 473.70,271.97" fill="#555" stroke="none" stroke-width="0.8"/>
<polygon points="476.00,278.80 477.80,280.60 476.00,282.40 474.20,280.60" fill="#000" stroke="none" stroke-width="0.8"/>
<circle cx="476.00" cy="290.50" r="2.0" fill="#888" stroke="#333" stroke-width="0.8"/>
<circle cx="476.00" cy="309.10" r="2.15" fill="#000" stroke="none" stroke-width="0.8"/>
<rect x="474.85" y="312.25" width="2.3" height="2.3" fill="#000" stroke="none" stroke-width="0.8"/>
<path d="M474.60,318.70L477.40,321.50M477.40,318.70L474.60,321.50" stroke="#aaa" stroke-width="0.8" fill="none"/>
</svg>
</body></html>
